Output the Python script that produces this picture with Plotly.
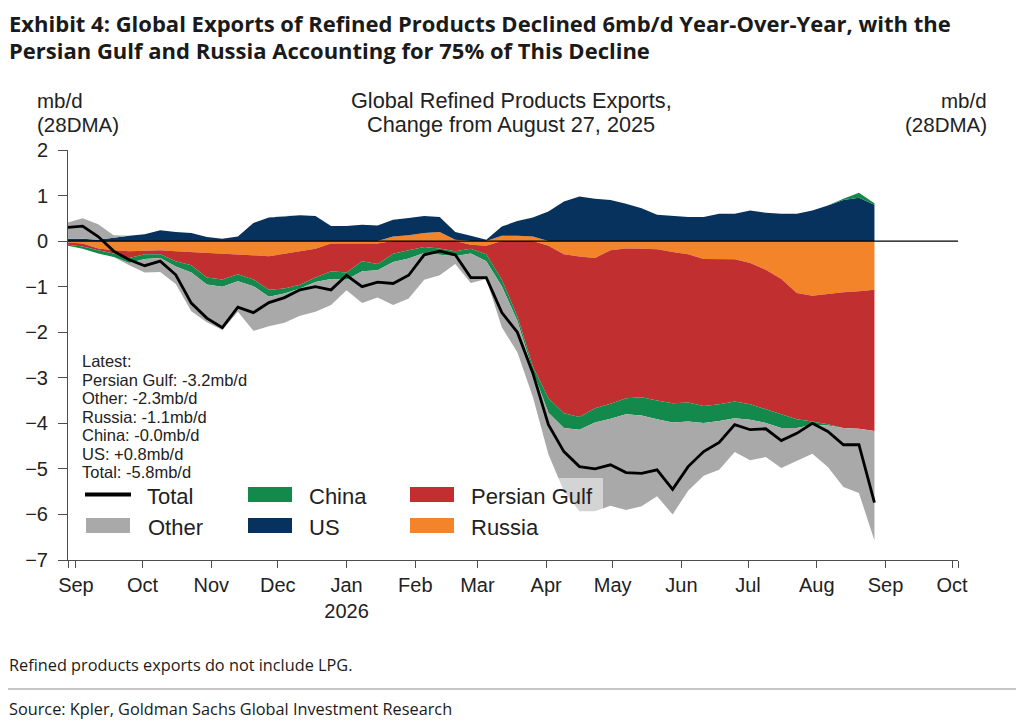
import pandas as pd
import plotly.graph_objects as go

# weekly readings, 28DMA change from Aug 27 2025 (mb/d)
dates = pd.date_range("2025-08-28", periods=53, freq="7D")

us = [0.05, 0.05, 0.03, 0.08, 0.12, 0.15, 0.24, 0.20, 0.18, 0.09,
      0.05, 0.10, 0.40, 0.52, 0.55, 0.57, 0.55, 0.33, 0.33, 0.36,
      0.34, 0.37, 0.38, 0.37, 0.33, 0.17, 0.12, 0.03, 0.20, 0.32,
      0.42, 0.65, 0.87, 0.98, 0.93, 0.90, 0.82, 0.72, 0.58, 0.55,
      0.53, 0.53, 0.60, 0.60, 0.67, 0.62, 0.60, 0.60, 0.67, 0.78,
      0.90, 0.95, 0.80]
china = [-0.02, -0.05, -0.07, -0.08, -0.11, -0.10, -0.08, -0.12, -0.16, -0.15,
         -0.16, -0.15, -0.15, -0.15, -0.11, -0.08, -0.10, -0.17, -0.16, -0.22,
         -0.14, -0.18, -0.18, -0.13, -0.14, -0.11, -0.10, -0.15, -0.14, -0.10,
         -0.10, -0.32, -0.32, -0.28, -0.31, -0.33, -0.35, -0.40, -0.41, -0.42,
         -0.42, -0.37, -0.37, -0.37, -0.34, -0.30, -0.29, -0.19, -0.07, -0.03,
         0.03, 0.11, 0.03]
russia = [-0.03, -0.05, -0.16, -0.20, -0.22, -0.21, -0.20, -0.22, -0.24, -0.25,
          -0.27, -0.29, -0.31, -0.33, -0.28, -0.22, -0.17, -0.05, -0.05, -0.04,
          -0.05, 0.10, 0.13, 0.18, 0.20, 0.03, -0.08, -0.10, 0.12, 0.12,
          0.10, -0.10, -0.29, -0.34, -0.37, -0.20, -0.16, -0.17, -0.18, -0.24,
          -0.29, -0.39, -0.39, -0.40, -0.48, -0.63, -0.83, -1.14, -1.20, -1.16,
          -1.12, -1.10, -1.07]
persian_gulf = [-0.05, -0.07, -0.04, -0.07, -0.15, -0.08, -0.09, -0.22, -0.29, -0.55,
                -0.57, -0.44, -0.53, -0.74, -0.76, -0.74, -0.63, -0.61, -0.64, -0.40,
                -0.45, -0.28, -0.20, -0.13, -0.16, -0.22, -0.09, -0.19, -0.85, -1.65,
                -2.75, -3.35, -3.49, -3.52, -3.30, -3.37, -3.29, -3.26, -3.32, -3.32,
                -3.25, -3.23, -3.19, -3.12, -3.10, -3.06, -2.98, -2.77, -2.76, -2.86,
                -2.98, -3.02, -3.10]
other = [0.35, 0.45, 0.34, 0.05, -0.05, -0.30, -0.31, -0.38, -0.85, -0.83,
         -0.95, -0.67, -0.98, -0.65, -0.64, -0.60, -0.65, -0.57, -0.23, -0.70,
         -0.60, -0.94, -0.88, -0.59, -0.45, -0.17, -0.65, -0.39, -0.90, -0.69,
         -0.57, -0.91, -1.39, -1.79, -1.95, -1.91, -2.10, -1.99, -1.69, -2.02,
         -1.52, -1.16, -1.07, -0.74, -0.89, -0.75, -0.88, -0.72, -0.64, -0.91,
         -1.30, -1.41, -2.40]
total = [0.30, 0.33, 0.10, -0.22, -0.41, -0.54, -0.44, -0.74, -1.36, -1.69,
         -1.90, -1.45, -1.57, -1.35, -1.24, -1.07, -1.00, -1.07, -0.75, -1.00,
         -0.90, -0.93, -0.75, -0.30, -0.22, -0.30, -0.80, -0.80, -1.57, -2.00,
         -2.90, -4.03, -4.62, -4.95, -5.00, -4.91, -5.08, -5.10, -5.02, -5.45,
         -4.95, -4.62, -4.42, -4.03, -4.14, -4.12, -4.38, -4.22, -4.00, -4.18,
         -4.47, -4.47, -5.74]

month_ticks = pd.date_range("2025-09-01", "2026-10-01", freq="MS")
month_labels = ["Sep", "Oct", "Nov", "Dec", "Jan<br>2026", "Feb", "Mar", "Apr",
                "May", "Jun", "Jul", "Aug", "Sep", "Oct"]

latest_lines = ["Latest:", "Persian Gulf: -3.2mb/d", "Other: -2.3mb/d",
                "Russia: -1.1mb/d", "China: -0.0mb/d", "US: +0.8mb/d",
                "Total: -5.8mb/d"]

NAVY = "#07325e"
GREEN = "#13894b"
RED = "#c12f30"
ORANGE = "#f4842a"
GRAY = "#a9a9a9"
TEXT = "#222222"
AXIS = "#4d4d4d"
ARIAL = "Liberation Sans, Arial, sans-serif"
HEAD = "Open Sans, sans-serif"

# the page body has an 8px margin, so the figure is shifted by 8px
OFF = 8
W, H = 1024 - 2 * OFF, 723 - OFF
# plot area in window pixels
L, R, T, B = 68, 958, 150, 560
x_start, x_end = "2025-08-28 10:00", "2026-10-03 16:00"


def px(p):
    return (p - L) / (R - L)


def py(p):
    return (B - p) / (B - T)


fig = go.Figure()

# positive and negative parts stack separately (diverging stacked area)
series = [("Russia", russia, ORANGE), ("Persian Gulf", persian_gulf, RED),
          ("US", us, NAVY), ("China", china, GREEN), ("Other", other, GRAY)]
for sign in ["pos", "neg"]:
    for name, vals, col in series:
        if sign == "pos":
            part = [max(v, 0) for v in vals]
        else:
            part = [min(v, 0) for v in vals]
        fig.add_trace(go.Scatter(x=dates, y=part, name=name, mode="lines",
                                 stackgroup=sign, line=dict(width=0),
                                 fillcolor=col, showlegend=False,
                                 hoverinfo="skip"))

fig.add_trace(go.Scatter(x=dates, y=total, name="Total", mode="lines",
                         line=dict(color="black", width=2.8),
                         showlegend=False))

axis_font = dict(family=ARIAL, size=20, color=TEXT)
fig.update_layout(
    width=W, height=H,
    margin=dict(l=L - OFF, r=W - (R - OFF), t=T - OFF, b=H - (B - OFF), pad=0),
    paper_bgcolor="white", plot_bgcolor="white",
    showlegend=False,
    xaxis=dict(type="date", range=[x_start, x_end],
               tickvals=[x_start] + list(month_ticks) + [x_end],
               ticktext=[""] + month_labels + [""],
               ticks="outside", ticklen=7, tickcolor=AXIS, showline=True,
               linecolor=AXIS, linewidth=1, showgrid=False, zeroline=False,
               tickfont=axis_font),
    yaxis=dict(range=[-7, 2], dtick=1, ticks="outside", ticklen=9,
               tickcolor=AXIS, showline=True, linecolor=AXIS, linewidth=1,
               showgrid=False, zeroline=False, tickfont=axis_font,
               ticklabelstandoff=6),
    yaxis2=dict(range=[-7, 2], dtick=1, overlaying="y", side="right",
                ticks="outside", ticklen=9, tickcolor=AXIS, showline=True,
                linecolor=AXIS, linewidth=1, showgrid=False, zeroline=False,
                tickfont=axis_font, ticklabelstandoff=4),
)

# zero line over the areas
fig.add_shape(type="line", xref="paper", yref="y", x0=0, x1=1, y0=0, y1=0,
              line=dict(color="black", width=1.3), layer="above")

# legend: translucent backing, swatches and labels
fig.add_shape(type="rect", xref="paper", yref="paper", x0=px(70), x1=px(603),
              y0=py(546), y1=py(478), fillcolor="rgba(255,255,255,0.5)",
              line=dict(width=0), layer="above")
fig.add_shape(type="line", xref="paper", yref="paper", x0=px(85), x1=px(131),
              y0=py(494.5), y1=py(494.5), line=dict(color="black", width=4),
              layer="above")
swatches = [(86, 518, GRAY), (248, 487, GREEN), (248, 518, NAVY),
            (410, 487, RED), (410, 518, ORANGE)]
for x0, y0, col in swatches:
    fig.add_shape(type="rect", xref="paper", yref="paper", x0=px(x0),
                  x1=px(x0 + 44), y0=py(y0 + 15), y1=py(y0), fillcolor=col,
                  line=dict(width=0), layer="above")
legend_text = [("Total", 146, 496), ("Other", 147, 527), ("China", 308, 496),
               ("US", 308, 527), ("Persian Gulf", 470, 496), ("Russia", 470, 527)]


def label(text, x, y, size, anchor="left", family=ARIAL, weight=400,
          color=TEXT):
    fig.add_annotation(text=text, x=px(x), y=py(y), xref="paper", yref="paper",
                       xanchor=anchor, yanchor="middle", showarrow=False,
                       borderpad=0,
                       font=dict(family=family, size=size, color=color,
                                 weight=weight))


for text, x, y in legend_text:
    label(text, x, y, 22)

for i, line in enumerate(latest_lines):
    label(line, 81, 361 + 18.5 * i, 16.5)

label("Global Refined Products Exports,", 511, 101, 21.7, anchor="center")
label("Change from August 27, 2025", 511, 125, 21.7, anchor="center")
label("mb/d", 36, 101, 20.5)
label("(28DMA)", 36, 125, 20.5)
label("mb/d", 988, 101, 20.5, anchor="right")
label("(28DMA)", 988, 125, 20.5, anchor="right")

label("Exhibit 4: Global Exports of Refined Products Declined 6mb/d "
      "Year-Over-Year, with the", 8, 23, 22, family=HEAD, weight=700,
      color="#1a1a1a")
label("Persian Gulf and Russia Accounting for 75% of This Decline", 8, 50, 22,
      family=HEAD, weight=700, color="#1a1a1a")
label("Refined products exports do not include LPG.", 8, 665, 16.3,
      family=HEAD, color="#1a1a1a")
label("Source: Kpler, Goldman Sachs Global Investment Research", 8, 709, 16.3,
      family=HEAD, color="#1a1a1a")
fig.add_shape(type="line", xref="paper", yref="paper", x0=px(8), x1=px(1016),
              y0=py(689), y1=py(689), line=dict(color="#8c8c8c", width=1))

fig.write_html("out.html")
